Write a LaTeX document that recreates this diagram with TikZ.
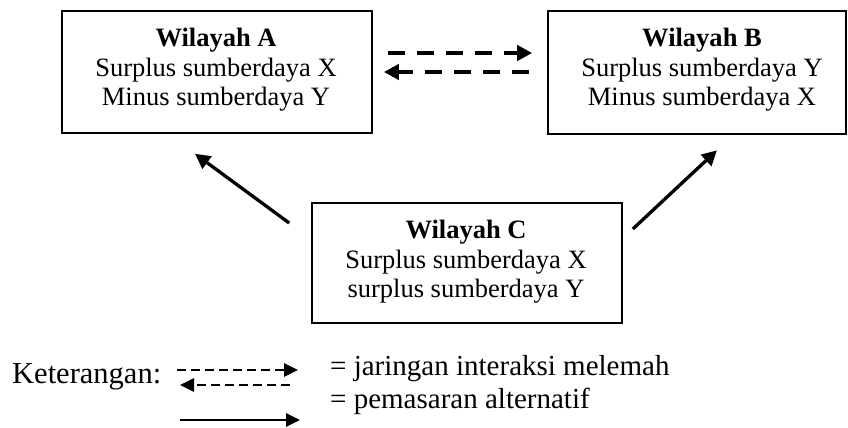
\documentclass[tikz,border=0pt]{standalone}
\usepackage{fontspec}
\setmainfont{Liberation Serif}
\usetikzlibrary{arrows.meta}
\begin{document}
\begin{tikzpicture}[x=1pt,y=-1pt,
  regionbox/.style={draw=black,line width=1.6pt,inner sep=0pt},
  boxtxt/.style={inner sep=0pt,anchor=base,font=\fontsize{26.5}{29}\selectfont},
  boxtitle/.style={boxtxt,font=\fontsize{26.5}{29}\selectfont\bfseries},
  legtxt/.style={inner sep=0pt,anchor=base west,font=\fontsize{29}{33}\selectfont},
  bigdash/.style={line width=4pt,dash pattern=on 17pt off 12pt,-{Triangle[length=15pt,width=15pt]}},
  bigsolid/.style={line width=3.3pt,-{Triangle[length=15pt,width=15pt]}},
  smalldash/.style={line width=2.7pt,dash pattern=on 9pt off 5pt,-{Triangle[length=14pt,width=13pt]}},
  smallsolid/.style={line width=2.7pt,-{Triangle[length=14pt,width=13pt]}}
]
\useasboundingbox (0,0) rectangle (848,428);

% boxes
\node[regionbox,minimum width=310pt,minimum height=122pt] (A) at (217,72) {};
\node[regionbox,minimum width=298pt,minimum height=123pt] (B) at (697,72.5) {};
\node[regionbox,minimum width=310pt,minimum height=120pt] (C) at (467,263) {};

% texts
\node[boxtitle] (A1) at (216,47) {Wilayah A};
\node[boxtxt] (A2) at (216,76) {Surplus sumberdaya X};
\node[boxtxt] (A3) at (216,105) {Minus sumberdaya Y};

\node[boxtitle] (B1) at (702,47) {Wilayah B};
\node[boxtxt] (B2) at (702,76) {Surplus sumberdaya Y};
\node[boxtxt] (B3) at (702,105) {Minus sumberdaya X};

\node[boxtitle] (C1) at (466,238) {Wilayah C};
\node[boxtxt] (C2) at (466,268) {Surplus sumberdaya X};
\node[boxtxt] (C3) at (466,297) {surplus sumberdaya Y};

% connectors
\draw[bigdash] ([xshift=15pt,yshift=19pt]A.east) -- ([xshift=-15pt,yshift=19.5pt]B.west);
\draw[bigdash] ([xshift=-18pt,yshift=0.5pt]B.west) -- ([xshift=11pt]A.east);
\draw[bigsolid] ([xshift=-22pt,yshift=40pt]C.west) -- ([xshift=-22pt,yshift=-20pt]A.south);
\draw[bigsolid] ([xshift=10pt,yshift=34pt]C.east) -- ([xshift=20pt,yshift=-15.5pt]B.south);

% legend
\node[inner sep=0pt,anchor=base west,font=\fontsize{30.5}{33}\selectfont] (K) at (12,383) {Keterangan:};
\node[legtxt] (L1) at (330,375) {= jaringan interaksi melemah};
\node[legtxt] (L2) at (330,408) {= pemasaran alternatif};

\coordinate (d1s) at (177,370);
\coordinate (d1e) at (298,370);
\coordinate (d2s) at (290,385);
\coordinate (d2e) at (180,385);
\coordinate (s1s) at (180,420);
\coordinate (s1e) at (300,420);
\draw[smalldash] (d1s) -- (d1e);
\draw[smalldash] (d2s) -- (d2e);
\draw[smallsolid] (s1s) -- (s1e);
\end{tikzpicture}
\end{document}
